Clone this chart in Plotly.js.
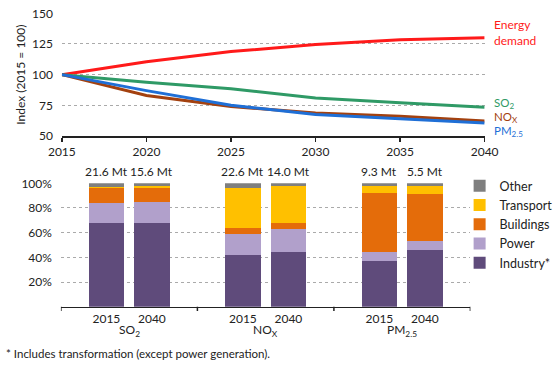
<!DOCTYPE html>
<html>
<head>
<meta charset="utf-8">
<script src="https://cdn.plot.ly/plotly-3.0.1.min.js"></script>
<style>html,body{margin:0;padding:0;background:#fff;}#chart{width:558px;height:366px;}</style>
</head>
<body>
<div id="chart"></div>
<script>
// ---- Top panel: index (2015 = 100) ----
var years = [2015, 2020, 2025, 2030, 2035, 2040];
var energyDemand = [100, 110.5, 118.8, 124.5, 128.5, 130];
var so2Index = [100, 93.8, 88.5, 81, 77, 73.5];
var noxIndex = [100, 83, 74, 68.8, 66, 62.3];
var pm25Index = [100, 87, 75, 67.5, 64, 60.5];
var lineNames = ['Energy<br>demand', 'SO<sub>2</sub>', 'NO<sub>X</sub>', 'PM<sub>2.5</sub>'];
var indexTicks = [50, 75, 100, 125, 150];

// ---- Bottom panel: shares by sector ----
var pollutants = ['SO<sub>2</sub>', 'NO<sub>X</sub>', 'PM<sub>2.5</sub>'];
var barYears = ['2015', '2040'];
var totals = ['21.6 Mt', '15.6 Mt', '22.6 Mt', '14.0 Mt', '9.3 Mt', '5.5 Mt'];
var sectors = ['Industry*', 'Power', 'Buildings', 'Transport', 'Other'];
var industry = [68, 68, 42, 44, 37, 46];
var power = [16, 16.5, 17, 19, 7, 7];
var buildings = [12, 12, 5, 4.6, 48, 38.5];
var transport = [1, 1.3, 32.5, 30.4, 6, 6.5];
var other = [3, 2.2, 3.5, 2, 2, 2];
var shareTicks = [20, 40, 60, 80, 100];
var shareTickText = ['20%', '40%', '60%', '80%', '100%'];
var footnote = '* Includes transformation (except power generation).';

var FONT = 'Lato, "Open Sans", sans-serif';
var lineColors = ['#ff1a1a', '#2f9a66', '#a3410f', '#1f6fd6'];
var sectorColors = ['#5f4b7b', '#b1a0cb', '#e46c0a', '#ffc000', '#7f7f7f'];

var traces = [];
[energyDemand, so2Index, noxIndex, pm25Index].forEach(function (vals, i) {
  traces.push({
    type: 'scatter', mode: 'lines', x: years, y: vals,
    xaxis: 'x', yaxis: 'y', showlegend: false, hoverinfo: 'skip',
    line: {color: lineColors[i], width: 3}
  });
});

// bar x positions: group index + 1/3 or 2/3
var barX = [];
var tickText = [];
pollutants.forEach(function (p, g) {
  barYears.forEach(function (yr, k) {
    barX.push(g + (k + 1) / 3);
    tickText.push(yr);
  });
});
[industry, power, buildings, transport, other].forEach(function (vals, i) {
  traces.push({
    type: 'bar', x: barX, y: vals, name: sectors[i],
    xaxis: 'x2', yaxis: 'y2', width: 0.26,
    marker: {color: sectorColors[i]}, hoverinfo: 'skip'
  });
});

var annotations = [];
// line labels (right side)
var lineLabelY = [134.3, 76.3, 65.0, 54.0];
var lineLabelSize = [12, 11.5, 11.5, 11.5];
lineNames.forEach(function (t, i) {
  annotations.push({
    text: t, xref: 'paper', yref: 'y', x: 502 / 558, y: lineLabelY[i],
    xanchor: 'left', yanchor: 'middle', showarrow: false, align: 'left',
    borderpad: 0,
    font: {family: FONT, size: lineLabelSize[i], color: lineColors[i]}
  });
});
// totals above bars
totals.forEach(function (t, i) {
  annotations.push({
    text: t, xref: 'x2', yref: 'y2', x: barX[i], y: 100,
    yanchor: 'bottom', yshift: 2, showarrow: false,
    font: {family: FONT, size: 12, color: '#222'}
  });
});
// pollutant group labels
pollutants.forEach(function (p, g) {
  annotations.push({
    text: p, xref: 'x2', yref: 'paper', x: g + 0.5, y: (366 - 330) / 366,
    yanchor: 'middle', showarrow: false,
    font: {family: FONT, size: 12, color: '#222'}
  });
});
annotations.push({
  text: footnote, xref: 'paper', yref: 'paper', x: 4 / 558, y: (366 - 353) / 366,
  xanchor: 'left', yanchor: 'middle', showarrow: false,
  font: {family: FONT, size: 11.5, color: '#222'}
});

// group separator ticks on the bar axis
var shapes = [];
for (var g = 0; g <= pollutants.length; g++) {
  shapes.push({
    type: 'line', xref: 'x2', yref: 'paper', x0: g, x1: g,
    y0: (366 - 306.7) / 366, y1: (366 - 311) / 366,
    line: {color: '#222', width: 1.5}
  });
}

var layout = {
  width: 558, height: 366,
  margin: {l: 0, r: 0, t: 0, b: 0},
  paper_bgcolor: '#fff', plot_bgcolor: '#fff',
  font: {family: FONT, size: 12, color: '#222'},
  barmode: 'stack',
  showlegend: true,
  legend: {
    x: 468 / 558, y: (366 - 171) / 366, xanchor: 'left', yanchor: 'top',
    traceorder: 'reversed', font: {family: FONT, size: 12.5, color: '#222'},
    bgcolor: 'rgba(0,0,0,0)', itemclick: false, tracegroupgap: 0
  },
  xaxis: {
    domain: [63 / 558, 493.5 / 558], range: [2015, 2040], anchor: 'y',
    tickvals: years, ticks: 'outside', ticklen: 4, tickwidth: 1.5, tickcolor: '#222',
    showline: true, linecolor: '#222', linewidth: 1.5, showgrid: false, zeroline: false,
    tickfont: {family: FONT, size: 12, color: '#222'}
  },
  yaxis: {
    domain: [(366 - 136) / 366, (366 - 13.3) / 366], range: [50, 150], anchor: 'x',
    tickvals: indexTicks, showgrid: true, gridcolor: '#aaa', griddash: 'dot',
    gridwidth: 1, zeroline: false, showline: false, ticks: '',
    ticklabelstandoff: 8,
    tickfont: {family: FONT, size: 12, color: '#222'},
    title: {text: 'Index (2015 = 100)', standoff: 3, font: {family: FONT, size: 12, color: '#222'}}
  },
  xaxis2: {
    domain: [62 / 558, 479 / 558], range: [0, 3], anchor: 'y2',
    tickvals: barX, ticktext: tickText, ticks: '', showgrid: false, zeroline: false,
    showline: true, linecolor: '#222', linewidth: 1.5,
    tickfont: {family: FONT, size: 12, color: '#222'}
  },
  yaxis2: {
    domain: [(366 - 306.7) / 366, (366 - 183.3) / 366], range: [0, 100], anchor: 'x2',
    tickvals: shareTicks, ticktext: shareTickText, showgrid: true, gridcolor: '#aaa',
    griddash: 'dot', gridwidth: 1, zeroline: false, showline: false, ticks: '',
    ticklabelstandoff: 8,
    tickfont: {family: FONT, size: 12, color: '#222'}
  },
  annotations: annotations,
  shapes: shapes
};

Plotly.newPlot('chart', traces, layout, {displayModeBar: false, staticPlot: true});
</script>
</body>
</html>
